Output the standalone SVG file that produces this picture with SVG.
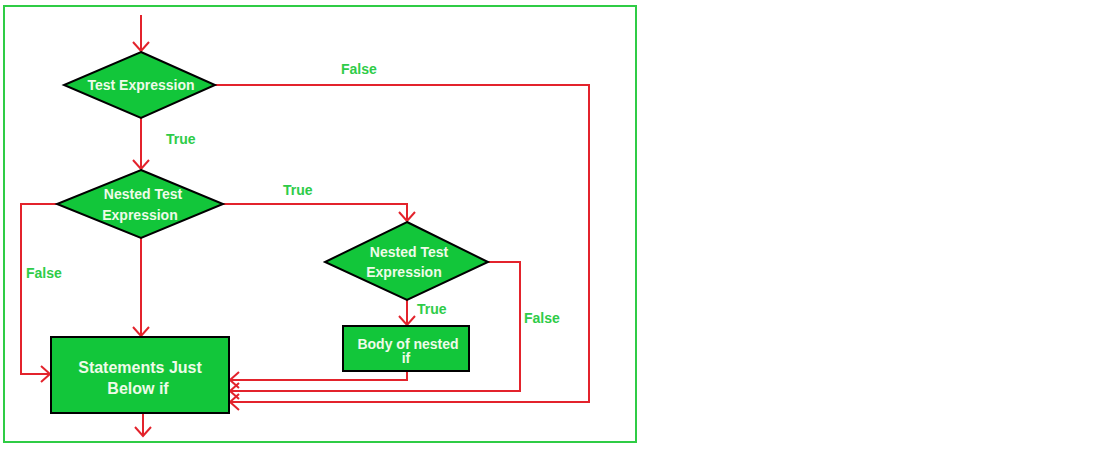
<svg xmlns="http://www.w3.org/2000/svg" width="1100" height="455" viewBox="0 0 1100 455">
<style>
.frame{fill:none;stroke:#2fcc45;stroke-width:2}
.shape{fill:#12c63a;stroke:#000;stroke-width:2}
.in{font-family:"Liberation Sans",Arial,sans-serif;font-weight:bold;font-size:14px;fill:#eefbe8;text-anchor:middle}
.big{font-size:16px}
.lbl{font-family:"Liberation Sans",Arial,sans-serif;font-weight:bold;font-size:14px;fill:#2ecc48}
.conn{fill:none;stroke:#e3232c;stroke-width:2}
</style>
<defs>
<marker id="ah" markerUnits="userSpaceOnUse" markerWidth="12" markerHeight="20" refX="10" refY="9" orient="auto" viewBox="0 0 12 18">
<path d="M1,1 L10,9 L1,17" fill="none" stroke="#e3232c" stroke-width="2"/>
</marker>
</defs>
<rect class="frame" x="4" y="6" width="632" height="436"/>
<g id="connectors">
<path class="conn" d="M141,15 V51" marker-end="url(#ah)"/>
<path class="conn" d="M141,118 V169" marker-end="url(#ah)"/>
<path class="conn" d="M57,204 H21 V374 H50" marker-end="url(#ah)"/>
<path class="conn" d="M141,238 V336" marker-end="url(#ah)"/>
<path class="conn" d="M223,204 H407 V221" marker-end="url(#ah)"/>
<path class="conn" d="M407,300 V325" marker-end="url(#ah)"/>
<path class="conn" d="M407,371 V380 H230" marker-end="url(#ah)"/>
<path class="conn" d="M488,262 H520 V391 H230" marker-end="url(#ah)"/>
<path class="conn" d="M215,85 H589 V402 H230" marker-end="url(#ah)"/>
<path class="conn" d="M143,413 V436" marker-end="url(#ah)"/>
</g>
<g id="labels">
<text class="lbl" x="341" y="74">False</text>
<text class="lbl" x="166" y="144">True</text>
<text class="lbl" x="283" y="195">True</text>
<text class="lbl" x="26" y="278">False</text>
<text class="lbl" x="417" y="314">True</text>
<text class="lbl" x="524" y="323">False</text>
</g>
<g id="test-expression">
<polygon class="shape" points="141,52 215,85 141,118 64,85"/>
<text class="in" x="141" y="90">Test Expression</text>
</g>
<g id="nested-test-1">
<polygon class="shape" points="141,170 223,204 141,238 57,204"/>
<text class="in" x="143" y="199">Nested Test</text>
<text class="in" x="140" y="220">Expression</text>
</g>
<g id="nested-test-2">
<polygon class="shape" points="407,222 488,262 407,300 325,262"/>
<text class="in" x="409" y="257">Nested Test</text>
<text class="in" x="404" y="277">Expression</text>
</g>
<g id="body-nested-if">
<rect class="shape" x="343" y="326" width="126" height="45"/>
<text class="in" x="408" y="349">Body of nested</text>
<text class="in" x="406" y="363">if</text>
</g>
<g id="statements-below-if">
<rect class="shape" x="51" y="337" width="178" height="76"/>
<text class="in big" x="140" y="373">Statements Just</text>
<text class="in big" x="138" y="394">Below if</text>
</g>
</svg>
